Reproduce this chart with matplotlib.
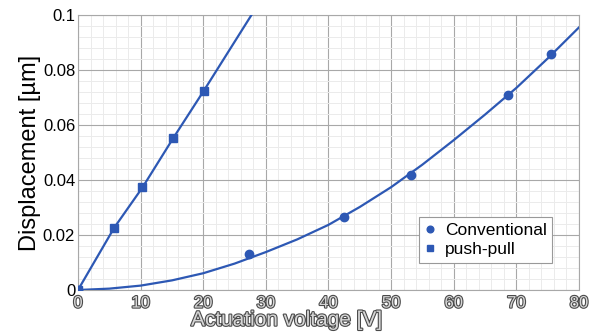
import matplotlib
matplotlib.use("Agg")
import matplotlib.pyplot as plt
import matplotlib.patheffects as pe
import numpy as np

plt.rcParams['font.family'] = ['Liberation Sans', 'DejaVu Sans']

# measured points
conv_v = [0, 27.3, 42.5, 53.1, 68.7, 75.5]
conv_d = [0, 0.0130, 0.0264, 0.0419, 0.0708, 0.0858]
pp_v = [0, 5.8, 10.3, 15.2, 20.1]
pp_d = [0, 0.0227, 0.0373, 0.0552, 0.0725]

# model curves
conv_fit_v = [0, 5, 10, 15, 20, 25, 30, 35, 40, 45, 50, 55, 60, 65, 70, 75, 80]
conv_fit_d = [0, 0.0005, 0.0016, 0.0035, 0.0061, 0.0096, 0.0138, 0.0184, 0.0237,
              0.0302, 0.0374, 0.0456, 0.0545, 0.0638, 0.0735, 0.0842, 0.0955]
pp_fit_v = [0, 5.8, 10.3, 15.2, 20.1, 27.7]
pp_fit_d = [0, 0.0227, 0.0373, 0.0552, 0.0725, 0.1]

xticks = [0, 10, 20, 30, 40, 50, 60, 70, 80]
yticks = [0, 0.02, 0.04, 0.06, 0.08, 0.1]
ytick_labels = ['0', '0.02', '0.04', '0.06', '0.08', '0.1']

blue = '#2d58b4'
outline = [pe.withStroke(linewidth=1.6, foreground='#4a4a4a')]

fig = plt.figure(figsize=(5.98, 3.34), dpi=100)
ax = fig.add_axes([0.1304, 0.1317, 0.8378, 0.8233])

ax.plot(conv_fit_v, conv_fit_d, color=blue, lw=1.6, zorder=3)
ax.plot(pp_fit_v, pp_fit_d, color=blue, lw=1.6, zorder=3)
ax.plot(conv_v, conv_d, 'o', color=blue, ms=6, label='Conventional', zorder=4)
ax.plot(pp_v, pp_d, 's', color=blue, ms=6, label='push-pull', zorder=4)

ax.set_xlim(0, 80)
ax.set_ylim(0, 0.1)
ax.set_xticks(xticks)
ax.set_yticks(yticks)
ax.set_yticklabels(ytick_labels)
ax.set_xticks(np.arange(0, 80.1, 2), minor=True)
ax.set_yticks(np.arange(0, 0.1001, 0.004), minor=True)
ax.grid(which='major', color='#a8a8a8', lw=0.8)
ax.grid(which='minor', color='#ebebeb', lw=0.7)
ax.set_axisbelow(True)
for s in ax.spines.values():
    s.set_color('#a8a8a8')
    s.set_linewidth(0.8)

ax.tick_params(which='both', length=0)
ax.tick_params(axis='y', labelsize=12, pad=2)
ax.tick_params(axis='x', labelsize=12, pad=4)
for lab in ax.get_xticklabels():
    lab.set_color('#d6d6d6')
    lab.set_path_effects(outline)

ax.set_ylabel('Displacement [µm]', fontsize=17, labelpad=1)
ax.set_xlabel('Actuation voltage [V]', fontsize=15, color='#d6d6d6',
              path_effects=outline, labelpad=0)
ax.xaxis.set_label_coords(0.417, -0.075)

leg = ax.legend(loc='lower right', bbox_to_anchor=(0.946, 0.1), fontsize=12.5,
                fancybox=False, framealpha=1, edgecolor='#999999',
                handlelength=0.7, handletextpad=0.5, borderpad=0.3,
                labelspacing=0.25, markerscale=0.8, borderaxespad=0)
leg.get_frame().set_linewidth(0.8)

fig.savefig('out.png', dpi=100)
